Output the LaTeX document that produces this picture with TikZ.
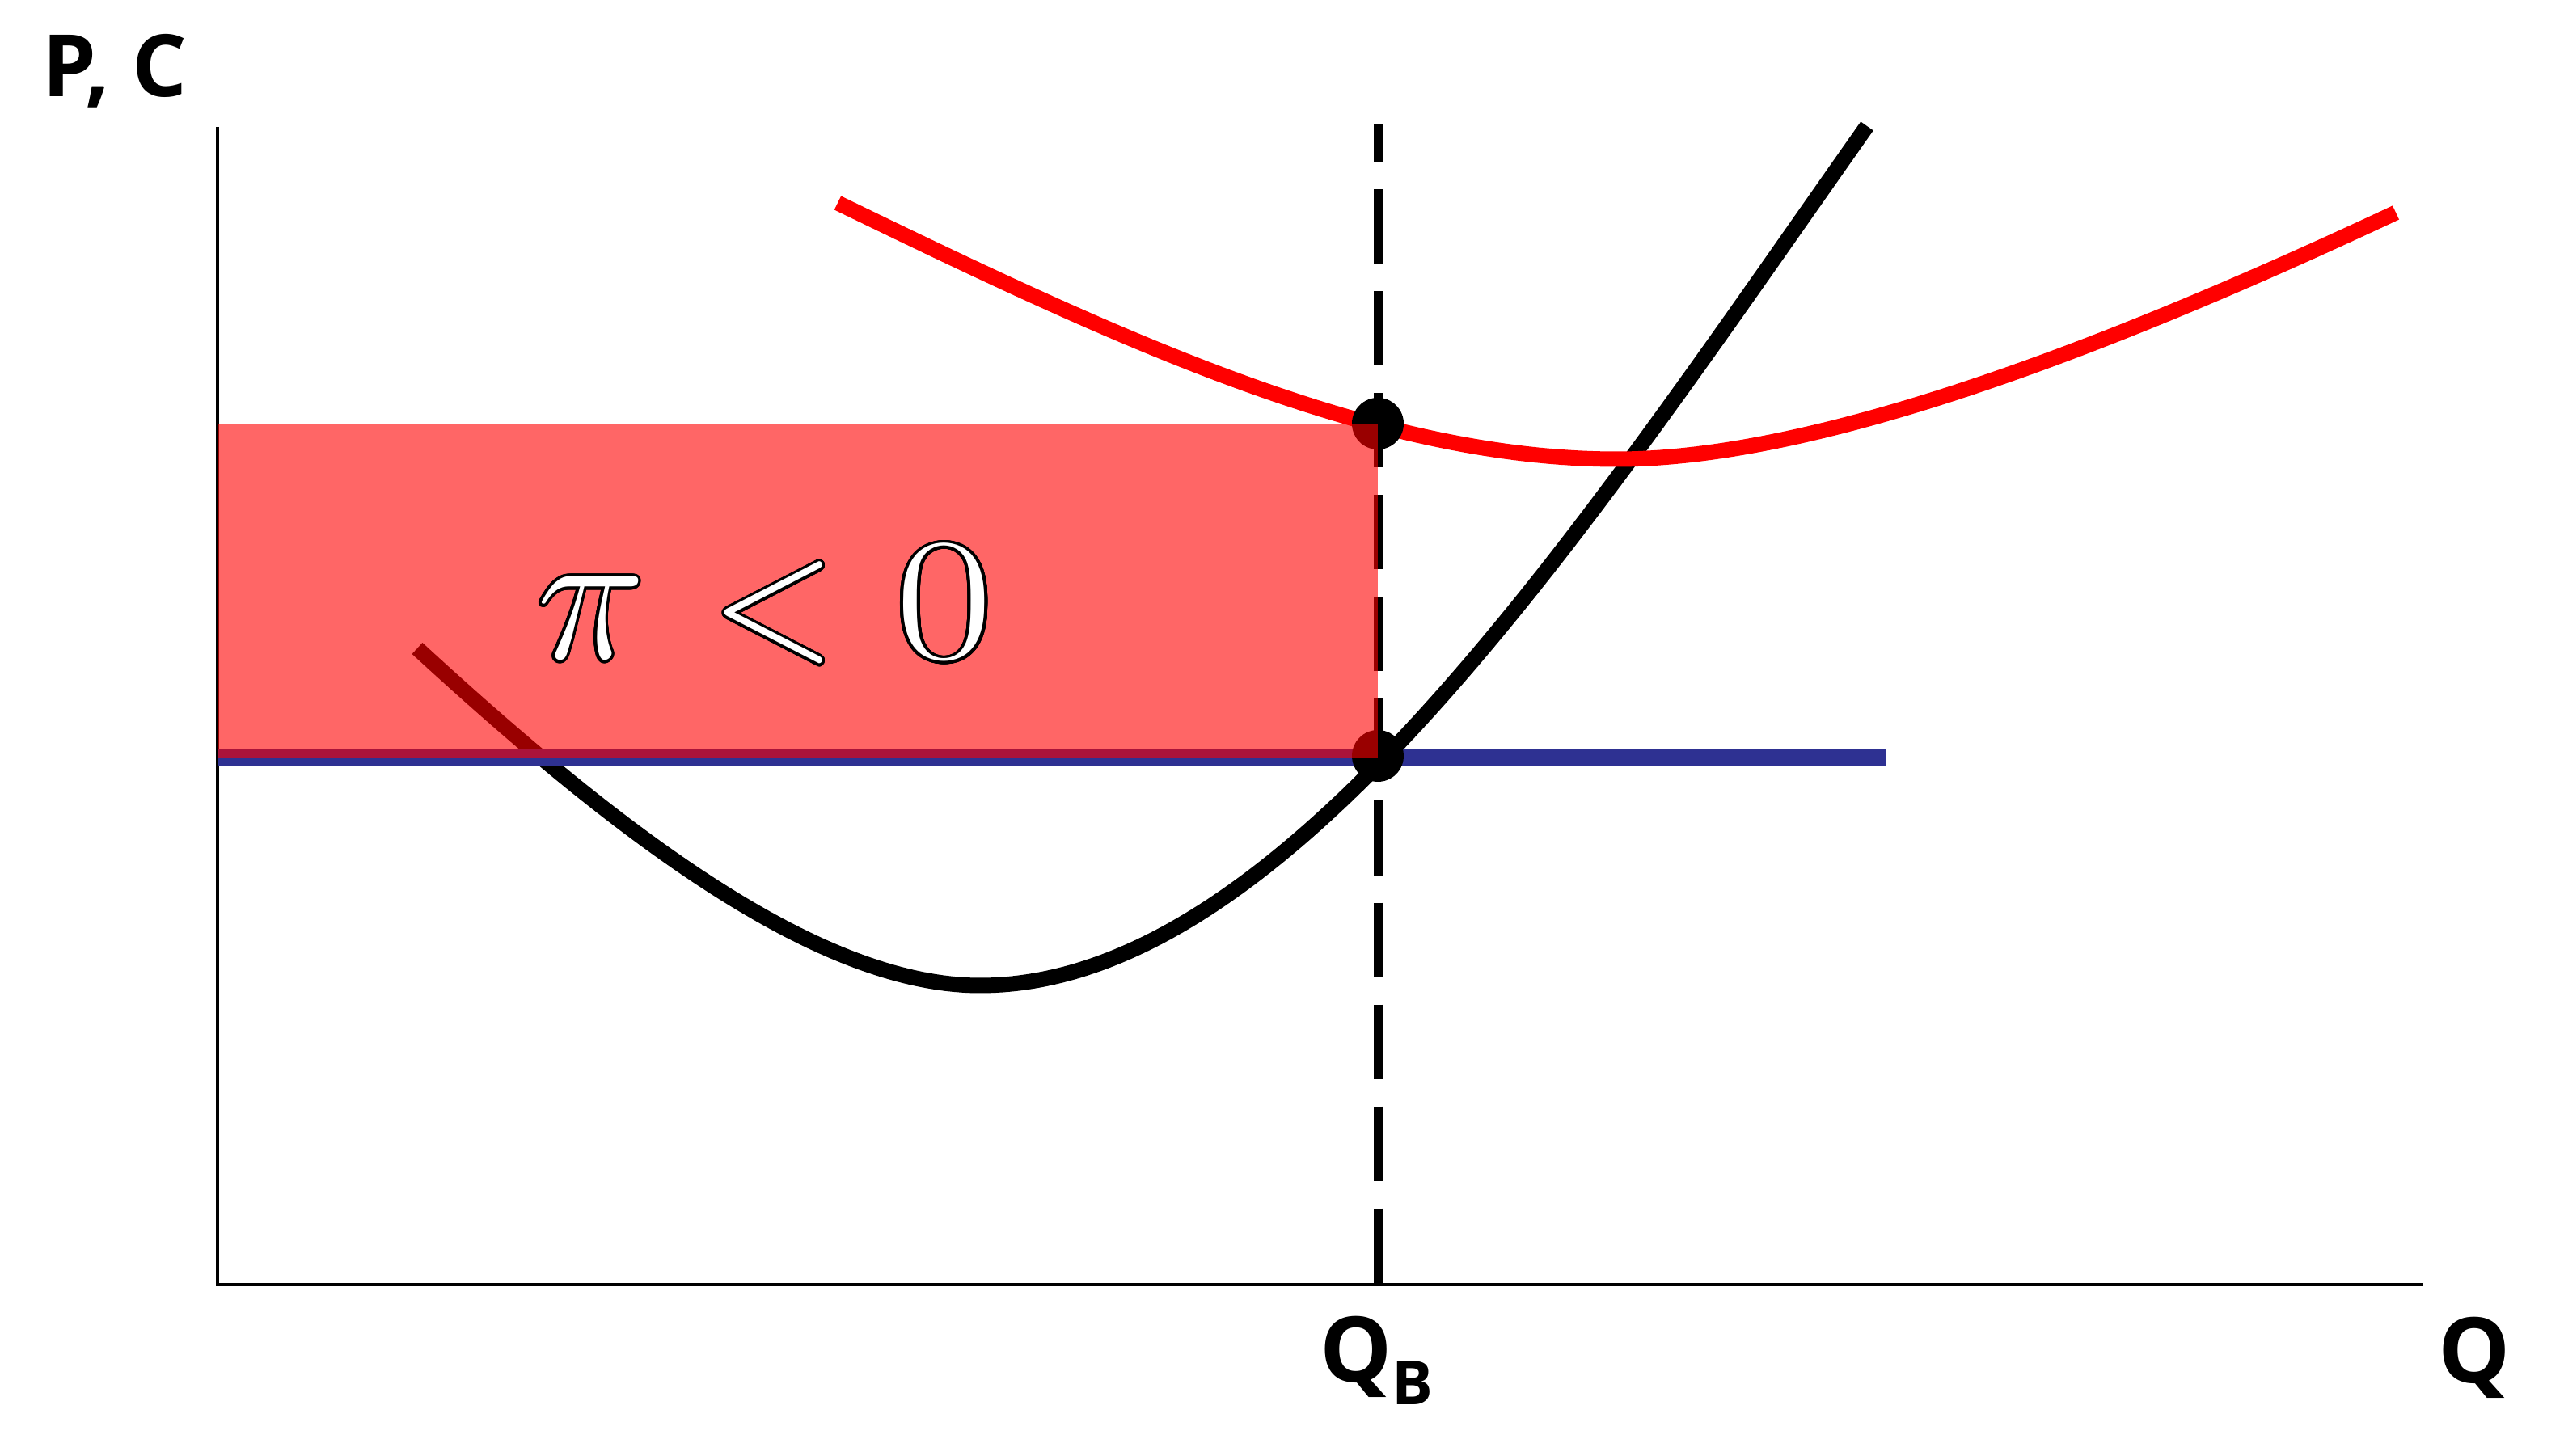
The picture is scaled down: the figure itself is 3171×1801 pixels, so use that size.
\documentclass[tikz,border=0pt]{standalone}
\usepackage{fontspec}
\usepackage{graphicx}
\usepackage{contour}
\newfontfamily\lblfont{Open Sans}
\contourlength{0.38pt}
\contournumber{32}
\definecolor{atcred}{RGB}{255,0,0}
\definecolor{mrblue}{RGB}{46,49,146}
\begin{document}
\begin{tikzpicture}[x=0.01cm,y=-0.01cm,
  axisline/.style={line width=1.42pt, black},
  curvestyle/.style={line width=5.4pt, line cap=butt, line join=round},
  dotstyle/.style={circle, fill=black, minimum size=18.2pt, inner sep=0pt, outer sep=0pt},
  lbl/.style={font=\lblfont\bfseries, inner sep=0pt, outer sep=0pt},
  mathlbl/.style={inner sep=0pt, outer sep=0pt, anchor=base, font=\Huge}]
\useasboundingbox (0,0) rectangle (3171,1801);
% axes
\coordinate (O) at (269,1589);
\coordinate (ytop) at (269,157);
\coordinate (xend) at (2997,1589);
\draw[axisline] (ytop) -- (O) -- (xend);
% dashed Q_B line
\coordinate (qtop) at (1704,154);
\coordinate (qbot) at (1704,1589);
\draw[black, line width=3.13pt, dash pattern=on 26.18pt off 9.67pt, dash phase=13.09pt] (qtop) -- (qbot);
% MC curve
\coordinate (mcS) at (516,802);
\coordinate (mcMin) at (1212,1219);
\coordinate (mcE) at (2309,156);
\draw[curvestyle, black] (mcS) .. controls (766,1032) and (1012,1219) .. (mcMin)
  .. controls (1592,1219) and (1959,653) .. (mcE);
% MR line
\coordinate (mrL) at (269,937);
\coordinate (mrR) at (2332,937);
\draw[mrblue, line width=5.69pt] (mrL) -- (mrR);
% ATC curve
\coordinate (atcS) at (1036,251);
\coordinate (atcMin) at (2000,568);
\coordinate (atcE) at (2963,263);
\draw[curvestyle, atcred] (atcS) .. controls (1386,421) and (1700,568) .. (atcMin)
  .. controls (2250,568) and (2613,427) .. (atcE);
% points
\node[dotstyle] (A) at (1704,524) {};
\node[dotstyle] (B) at (1704,935) {};
% loss rectangle
\fill[atcred, fill opacity=0.6] (269,525) rectangle (1704,937);
% pi < 0
\node[mathlbl] (pi) at (731,815) {\scalebox{2.59}[2.69]{\color{white}\contour{black}{$\pi$}}};
\node[mathlbl] (lt) at (957,815) {\scalebox{2.32}[2.6]{\color{white}\contour{black}{$<$}}};
\node[mathlbl] (zero) at (1168,815) {\scalebox{3.0}[2.47]{\color{white}\contour{black}{$0$}}};
% labels
\node[lbl, anchor=base west] (PC) at (52,120) {\fontsize{30.3}{31}\selectfont P, C};
\node[lbl, anchor=base west] (QB) at (1632,1710) {\fontsize{31.9}{32}\selectfont Q\raisebox{-7.7pt}{\fontsize{21.5}{22}\selectfont B}};
\node[lbl, anchor=base west] (Q) at (3015,1711) {\fontsize{31.9}{32}\selectfont Q};
\end{tikzpicture}
\end{document}
